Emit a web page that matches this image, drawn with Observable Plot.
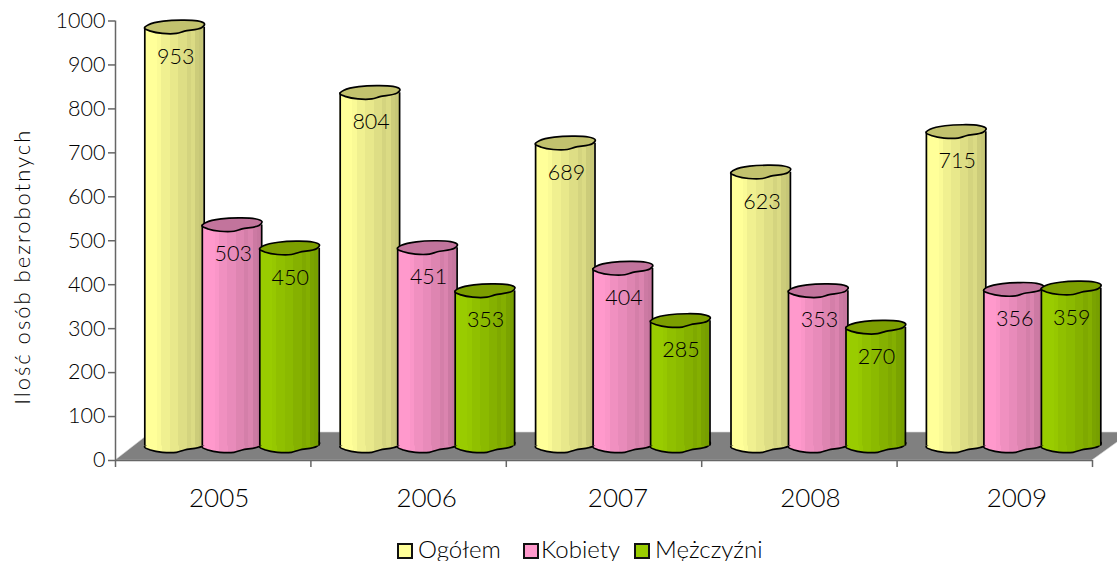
<!DOCTYPE html>
<html><head><meta charset="utf-8">
<script src="https://cdn.jsdelivr.net/npm/d3@7"></script>
<script src="https://cdn.jsdelivr.net/npm/@observablehq/plot@0.6"></script>
<style>
html,body{margin:0;padding:0;background:#fff;overflow:hidden}
#legend{display:flex;position:absolute;left:0;top:535px;width:1117px;height:26px;font:300 24px Lato,sans-serif;color:#000;align-items:center}
#legend span{position:absolute;top:0;line-height:28px;white-space:nowrap}
#legend i{position:absolute;top:8px;width:12px;height:12px;border:2px solid #111;display:block}
</style></head><body><div id="chart"></div><div id="legend"></div>
<script>
const years = ["2005","2006","2007","2008","2009"];
const ogolem = [953,804,689,623,715];
const kobiety = [503,451,404,353,356];
const mezczyzni = [450,353,285,270,359];
const yTicks = [0,100,200,300,400,500,600,700,800,900,1000];
const seriesNames = ["Ogółem","Kobiety","Mężczyźni"];
const seriesValues = [ogolem,kobiety,mezczyzni];
const baseColors = ["#ffff99","#ff99cc","#99cc00"];
const topColors = ["#c2c26e","#c2749c","#7c9e00"];
const seriesDx = [-38.7,18.8,76.3];
const labelDx = [-37.5,20,77];
const yearLabelDx = [6,18,14,11,22];
const halfWidth = 29.7, depthDy = -14.5;
const font = "Lato, sans-serif";

const outline = [[-30,1],[-26,-2.5],[-11,-6],[23,-6.2],[30,-3.3],[27,.5],[10,4],[2,6.3],[-12,6.3],[-24,4]];
const lens = {draw(ctx){ d3.line().curve(d3.curveCatmullRomClosed).context(ctx)(outline); }};
const shades = [1,1,1,.98,.94,.94,.91,.91,.87,.87,.83,.86,.8,.78];

function defs(){
  const s = d3.create("svg:defs");
  baseColors.forEach((c,i)=>{
    const g = s.append("linearGradient").attr("id","cyl"+i);
    shades.forEach((k,j)=>{
      const col = d3.rgb(c); const v = d3.rgb(col.r*k,col.g*k,col.b*k).formatHex();
      g.append("stop").attr("offset",j/shades.length).attr("stop-color",v);
      g.append("stop").attr("offset",(j+1)/shades.length).attr("stop-color",v);
    });
  });
  return s.node();
}
function floor(index,{y},values,{width,marginLeft,marginRight}){
  const y0=y(0), l=marginLeft, r=width-marginRight;
  const p = d3.path();
  p.moveTo(l,y0); p.lineTo(l+36,y0-28); p.lineTo(r+39,y0-28); p.lineTo(r,y0); p.closePath();
  return d3.create("svg:path").attr("d",p.toString()).attr("fill","#808080").attr("stroke","#d8d8d8").attr("stroke-width",0.6).node();
}
const rows = i => years.map((year,j)=>({year,value:seriesValues[i][j]}));
function cylinder(i){
  const data = rows(i), dx = seriesDx[i];
  return [
    Plot.dot(data,{x:"year",y:()=>0,r:1,symbol:lens,fill:`url(#cyl${i})`,stroke:"#000",strokeWidth:1.7,dx,dy:depthDy}),
    Plot.barY(data,{x:"year",y:"value",fill:`url(#cyl${i})`,dx,dy:depthDy,insetLeft:195.4/2-halfWidth,insetRight:195.4/2-halfWidth}),
    Plot.ruleX(data,{x:"year",y1:0,y2:"value",stroke:"#000",strokeWidth:1.7,dx:dx-halfWidth,dy:depthDy}),
    Plot.ruleX(data,{x:"year",y1:0,y2:"value",stroke:"#000",strokeWidth:1.7,dx:dx+halfWidth,dy:depthDy}),
    Plot.dot(data,{x:"year",y:"value",r:1,symbol:lens,fill:topColors[i],stroke:"#000",strokeWidth:1.7,dx,dy:depthDy}),
    Plot.text(data,{x:"year",y:"value",text:d=>String(d.value),dx:labelDx[i],dy:15,fontSize:21.5,fontWeight:300,fill:"#000"})
  ];
}
const axisColor = "#666";
const plot = Plot.plot({
  width:1117,height:535,marginLeft:115,marginRight:25,marginTop:20.5,marginBottom:75,
  style:{fontFamily:font,background:"#fff",overflow:"hidden"},
  x:{domain:years,padding:0,round:false,label:null,axis:null},
  y:{domain:[0,1000],label:null},
  marks:[
    defs,
    floor,
    ...[0,1,2].flatMap(cylinder),
    Plot.ruleY([0],{stroke:axisColor,strokeWidth:1.5}),
    Plot.ruleX([years[0]],{x:d=>d,y1:-16,y2:1000,stroke:axisColor,strokeWidth:1.5,dx:-97.7}),
    Plot.ruleX(years,{x:d=>d,y1:0,y2:-16,stroke:axisColor,strokeWidth:1.5,dx:97.7}),
    Plot.axisY({ticks:yTicks,tickSize:7,tickPadding:3,stroke:axisColor,strokeWidth:1.5,fontSize:21.5,fontWeight:300,color:"#000",label:null,tickFormat:d=>String(d)}),
    ...years.map((year,i)=>Plot.text([year],{x:d=>d,frameAnchor:"bottom",dx:yearLabelDx[i],dy:46,fontSize:26,fontWeight:300,fill:"#000"})),
    Plot.text(["Ilość osób bezrobotnych"],{frameAnchor:"left",textAnchor:"middle",rotate:-90,dx:-93,dy:26,fontSize:22,fontWeight:300,fill:"#000"})
  ]
});
document.getElementById("chart").appendChild(plot);
d3.select(plot).selectAll("text").filter(function(){return this.textContent.startsWith("Ilość");}).style("letter-spacing","2px");
const legendPos = [[397,418],[523,541],[634,655]];
const lg = document.getElementById("legend");
seriesNames.forEach((n,i)=>{
  const sw=document.createElement("i"); sw.style.left=legendPos[i][0]+"px"; sw.style.background=baseColors[i]; lg.appendChild(sw);
  const t=document.createElement("span"); t.style.left=legendPos[i][1]+"px"; t.textContent=n; lg.appendChild(t);
});
</script></body></html>
